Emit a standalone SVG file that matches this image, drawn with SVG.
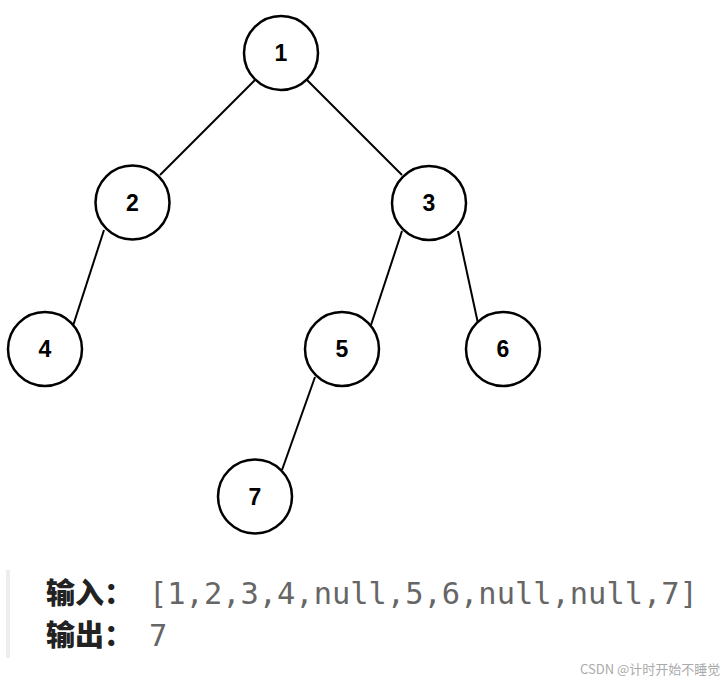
<svg xmlns="http://www.w3.org/2000/svg" width="727" height="683" viewBox="0 0 727 683">
<style>
.node circle{fill:#fff;stroke:#000;stroke-width:2.5}
.node text{font-family:"Liberation Sans",Arial,sans-serif;font-weight:bold;font-size:23px;text-anchor:middle;fill:#000}
.edge{stroke:#000;stroke-width:2;fill:none}
.lbl{font-family:"Noto Sans CJK SC",sans-serif;font-weight:900;font-size:29px;fill:#222}
.code{font-family:"DejaVu Sans Mono","Liberation Mono",monospace;font-size:30.4px;fill:#666}
.wm{font-family:"Noto Sans CJK SC",sans-serif;font-size:13px;fill:#aaa}
</style>
<rect width="727" height="683" fill="#fff"/>
<g id="connectors">
<line class="edge" x1="255" y1="80" x2="160" y2="175"/>
<line class="edge" x1="307" y1="80" x2="402" y2="175"/>
<line class="edge" x1="104" y1="230" x2="72" y2="329"/>
<line class="edge" x1="402" y1="231" x2="370" y2="328"/>
<line class="edge" x1="458" y1="231" x2="479" y2="328"/>
<line class="edge" x1="315" y1="377" x2="282" y2="470"/>
</g>
<g id="node1" class="node"><circle cx="281" cy="53" r="37"/><text x="281" y="61">1</text></g>
<g id="node2" class="node"><circle cx="132.5" cy="202.5" r="37"/><text x="132.5" y="210.5">2</text></g>
<g id="node3" class="node"><circle cx="429" cy="203" r="37"/><text x="429" y="211">3</text></g>
<g id="node4" class="node"><circle cx="45" cy="349" r="37"/><text x="45" y="357">4</text></g>
<g id="node5" class="node"><circle cx="342" cy="349" r="37"/><text x="342" y="357">5</text></g>
<g id="node6" class="node"><circle cx="503" cy="349" r="37"/><text x="503" y="357">6</text></g>
<g id="node7" class="node"><circle cx="255" cy="496.5" r="37"/><text x="255" y="504.5">7</text></g>
<rect x="6" y="570" width="4" height="88" fill="#eee"/>
<text class="lbl" x="46" y="604">输入：</text>
<text class="code" x="149" y="604">[1,2,3,4,null,5,6,null,null,7]</text>
<text class="lbl" x="46" y="646">输出：</text>
<text class="code" x="149" y="646">7</text>
<text class="wm" x="580" y="674">CSDN @计时开始不睡觉</text>
</svg>
